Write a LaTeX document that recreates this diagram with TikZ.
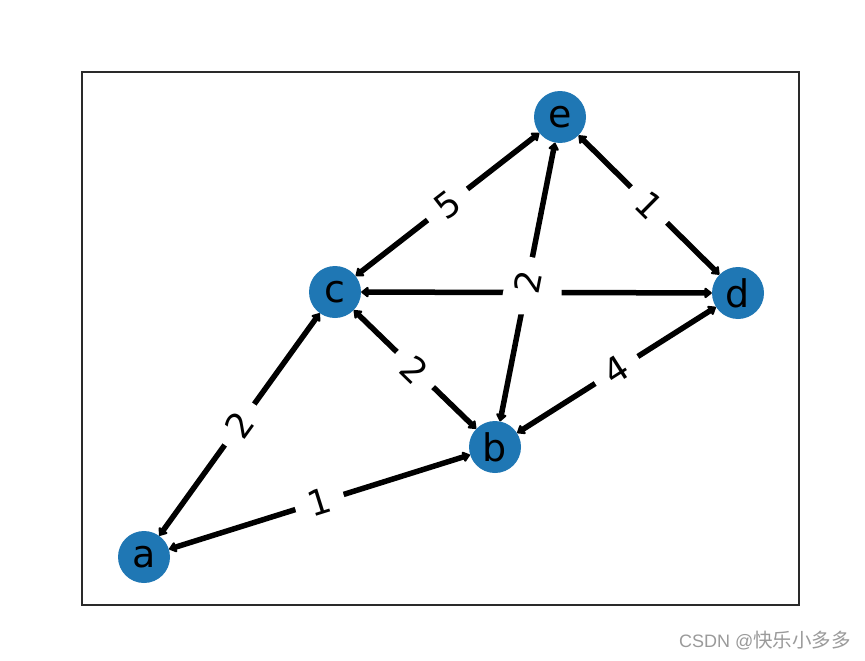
\documentclass[tikz,border=0pt]{standalone}
\usepackage{fontspec}
\setmainfont{DejaVu Sans}
\newfontfamily\cjk{Noto Sans CJK SC}
\newfontfamily\wmfont{Liberation Sans}
\usetikzlibrary{arrows.meta}
\definecolor{mplblue}{HTML}{1F77B4}
\definecolor{framecol}{HTML}{2A2A2A}
\definecolor{wmgray}{HTML}{9A9A9A}
\begin{document}
\begin{tikzpicture}[x=1pt,y=-1pt,
  vertex/.style={circle, fill=mplblue, minimum size=52pt, inner sep=0pt,
    font=\fontsize{38}{38}\selectfont},
  link/.style={line width=5.5pt, line join=round,
    {Triangle[round,length=8pt,width=12pt]}-{Triangle[round,length=8pt,width=12pt]}},
  wlabel/.style={fill=white, rounded corners=8pt, inner xsep=14pt, inner ysep=9pt,
    font=\fontsize{35}{35}\selectfont, sloped, midway},
  axesframe/.style={draw=framecol, line width=1.4pt},
  watermark/.style={text=wmgray, inner sep=0pt, anchor=base west}]
\useasboundingbox (0,0) rectangle (865,661);
\fill[white] (0,0) rectangle (865,661);
\draw[axesframe] (82,72) rectangle (799,605);
% nodes
\node[vertex] (e) at (560,117) {e};
\node[vertex] (c) at (335,292) {c};
\node[vertex] (d) at (738,293) {d};
\node[vertex] (b) at (495,447) {b};
\node[vertex] (a) at (144,557) {a};
% edges
\draw[link] (c) -- (e);
\draw[link] (e) -- (d);
\draw[link] (c) -- (d);
\draw[link] (e) -- (b);
\draw[link] (c) -- (b);
\draw[link] (b) -- (d);
\draw[link] (a) -- (c);
\draw[link] (a) -- (b);
% edge labels
\path (c) -- (e) node[wlabel] {5};
\path (e) -- (d) node[wlabel] {1};
\path (c) -- (d) node[wlabel] {\phantom{2}};
\path (e) -- (b) node[wlabel] {2};
\path (c) -- (b) node[wlabel] {2};
\path (b) -- (d) node[wlabel] {4};
\path (a) -- (c) node[wlabel] {2};
\path (a) -- (b) node[wlabel] {1};
% watermark
\node[watermark] (wm) at (679,647) {\fontsize{18}{18}\selectfont\wmfont CSDN @\cjk\fontsize{19.5}{19.5}\selectfont 快乐小多多};
\end{tikzpicture}
\end{document}
